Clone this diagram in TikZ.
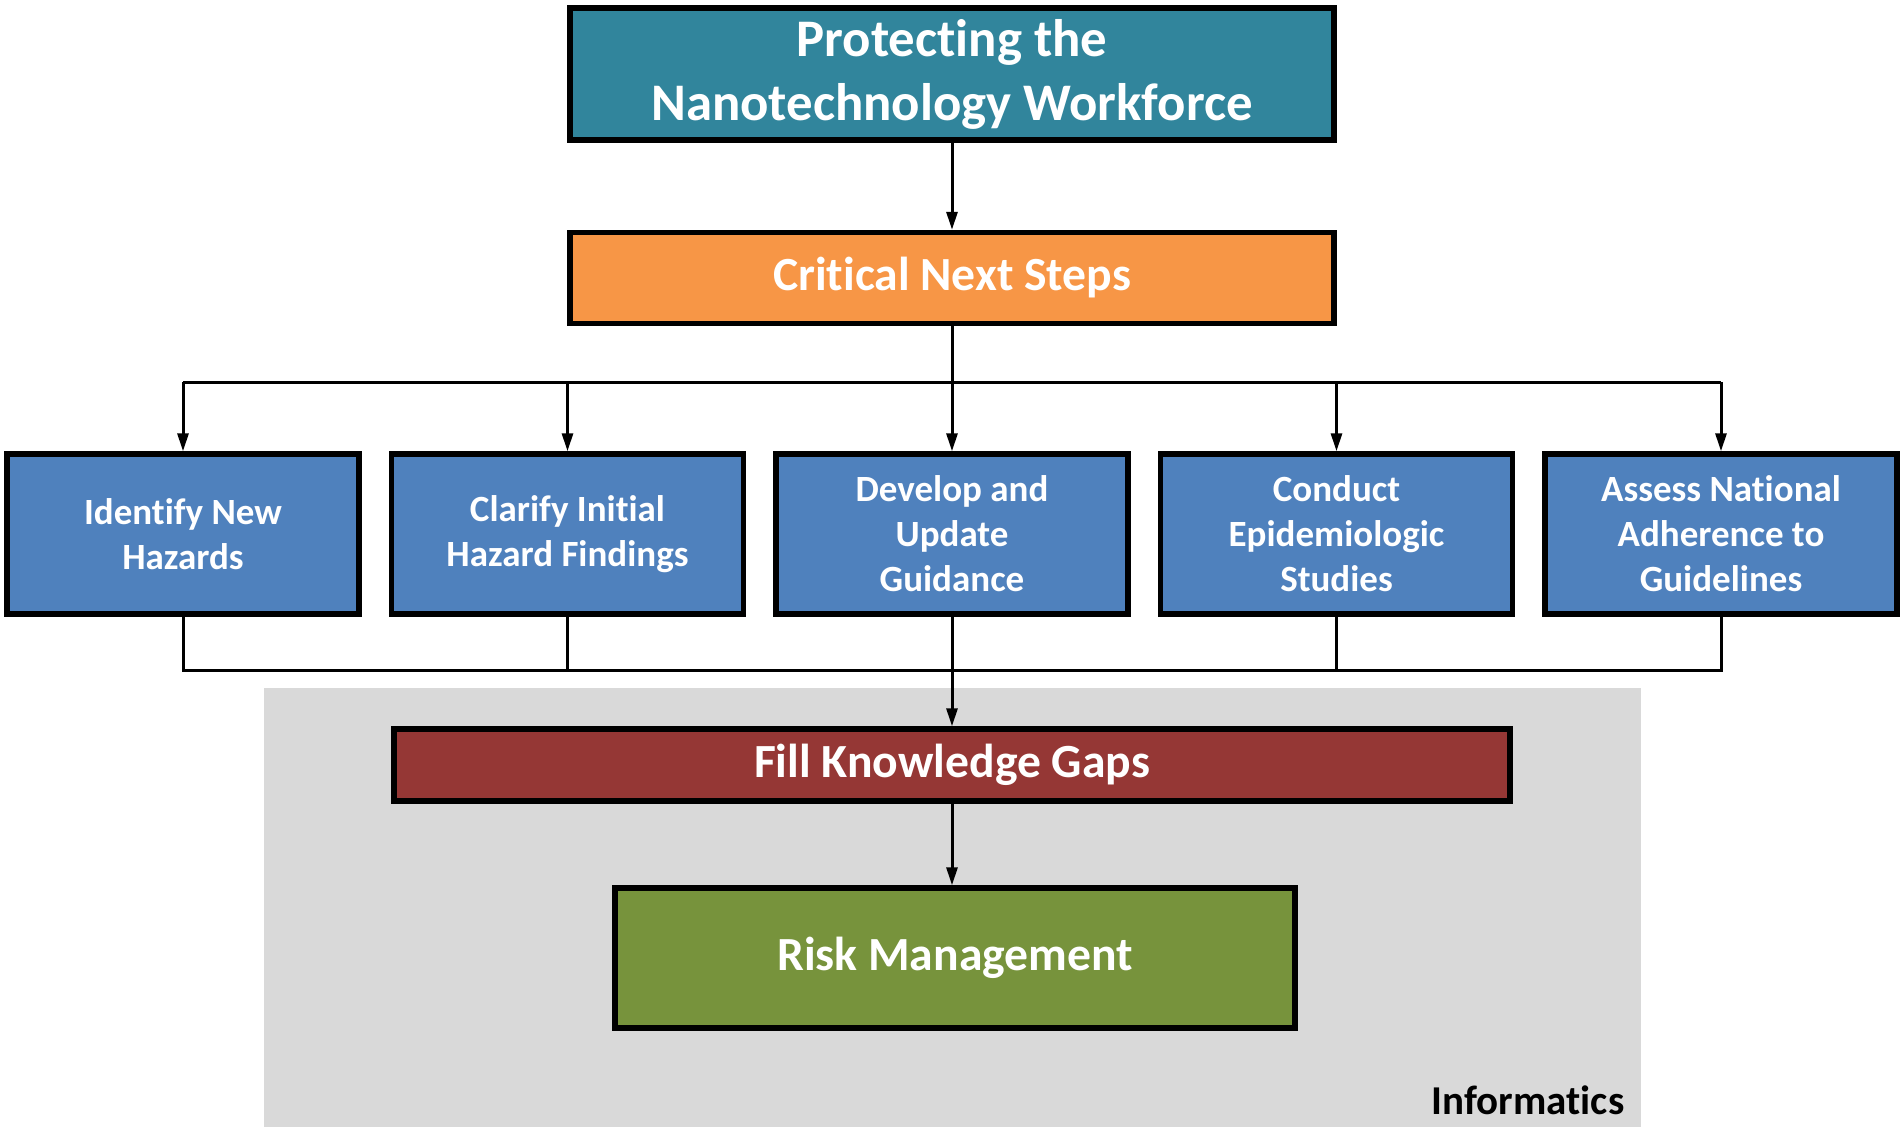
\documentclass[tikz,border=0pt]{standalone}
\usepackage{fontspec}
\setmainfont{Carlito}[Ligatures={NoCommon,NoContextual,NoRequired},RawFeature=-calt]
\usetikzlibrary{positioning}
\usetikzlibrary{arrows.meta}
\definecolor{workforceteal}{HTML}{31859C}
\definecolor{steporange}{HTML}{F79646}
\definecolor{stepblue}{HTML}{4F81BD}
\definecolor{gapsred}{HTML}{953735}
\definecolor{riskgreen}{HTML}{77933C}
\definecolor{infogray}{HTML}{D9D9D9}

\begin{document}
\begin{tikzpicture}[x=0.5pt,y=-0.5pt,
  box/.style={draw=black,line width=2.75pt,text=white,font=\bfseries,align=center,inner sep=0pt},
  bigbox/.style={box,font=\bfseries\fontsize{23.8}{28}\selectfont},
  stepbox/.style={box,fill=stepblue,minimum width=176pt,minimum height=80pt,
    font=\bfseries\fontsize{18.5}{22.5}\selectfont},
  link/.style={line width=1.5pt},
  arr/.style={link,-{Triangle[length=9pt,width=5.5pt]}}]
  \useasboundingbox (0,0) rectangle (1903,1131);
  \fill[infogray] (264,688) rectangle (1641,1127);

  \node[box,fill=workforceteal,minimum width=382pt,minimum height=66pt,
    font=\bfseries\fontsize{26.4}{32}\selectfont] (workforce) at (952,74)
    {Protecting the\\Nanotechnology Workforce};
  \node[bigbox,fill=steporange,minimum width=382pt,minimum height=45.5pt] (steps) at (952,278) {Critical Next Steps};
  \node[stepbox] (develop) at (952,534) {Develop and\\Update\\Guidance};
  \node[stepbox,left=13.5pt of develop] (clarify) {Clarify Initial\\Hazard Findings};
  \node[stepbox,left=13.5pt of clarify] (identify) {Identify New\\Hazards};
  \node[stepbox,right=13.5pt of develop] (conduct) {Conduct\\Epidemiologic\\Studies};
  \node[stepbox,right=13.5pt of conduct] (assess) {Assess National\\Adherence to\\Guidelines};
  \node[bigbox,fill=gapsred,minimum width=558pt,minimum height=36pt] (gaps) at (952,765) {Fill Knowledge Gaps};
  \node[bigbox,fill=riskgreen,minimum width=340pt,minimum height=70pt] (risk) at (955,958) {Risk Management};
  \node[font=\bfseries\fontsize{20.5}{24}\selectfont] (informatics) at (1528,1100) {Informatics};

  \coordinate (upper) at (952,382);
  \coordinate (lower) at (952,670);
  \draw[arr] (workforce) -- (steps);
  \draw[link] (steps) -- (upper);
  \draw[link] (identify.north |- upper) -- (assess.north |- upper);
  \foreach \n in {identify,clarify,develop,conduct,assess}
    \draw[arr] (\n.north |- upper) -- (\n.north);
  \draw[link] (identify.south) |- (lower) -| (assess.south);
  \draw[link] (clarify.south) -- (clarify.south |- lower);
  \draw[link] (conduct.south) -- (conduct.south |- lower);
  \draw[arr] (develop) -- (gaps);
  \draw[arr] (gaps.south) -- (gaps.south |- risk.north);
\end{tikzpicture}
\end{document}
